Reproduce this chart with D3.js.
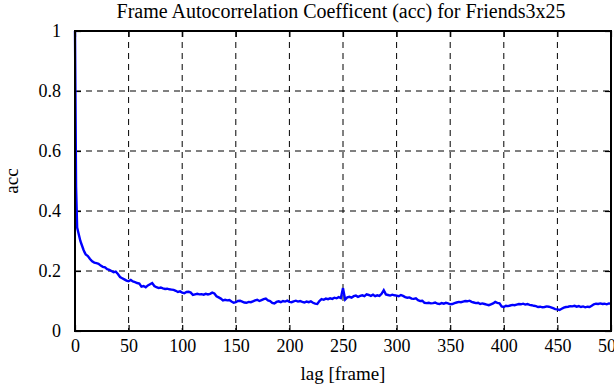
<!DOCTYPE html>
<html>
<head>
<meta charset="utf-8">
<script src="https://cdn.jsdelivr.net/npm/d3@7"></script>
<style>
  html, body { margin: 0; padding: 0; background: #fff; }
  svg { display: block; }
  text { font-family: "Liberation Serif", "DejaVu Serif", serif; fill: #000; }
</style>
</head>
<body>
<svg id="chart" width="614" height="385"></svg>
<script>
// ---- data ----
const titleText = "Frame Autocorrelation Coefficent (acc) for Friends3x25";
const xLabel = "lag [frame]";
const yLabel = "acc";
const xTicks = [0, 50, 100, 150, 200, 250, 300, 350, 400, 450, 500];
const yTicks = [0, 0.2, 0.4, 0.6, 0.8, 1];
const yTickLabels = ["0", "0.2", "0.4", "0.6", "0.8", "1"];

// lags: every frame for 0..9, then every 2 frames up to 500
const lagsHead = [0, 1, 2, 3, 4, 5, 6, 7, 8, 9];
const accHead = [1.0, 0.48, 0.345, 0.33, 0.315, 0.3, 0.29, 0.28, 0.27, 0.262];
// acc for lags 10, 12, 14, ..., 500
const accTail = [
  0.255, 0.25, 0.24, 0.232, 0.228, 0.226, 0.224, 0.218, 0.214, 0.212,
  0.206, 0.204, 0.2, 0.196, 0.198, 0.19, 0.18, 0.176, 0.172, 0.168,
  0.166, 0.17, 0.165, 0.163, 0.16, 0.158, 0.148, 0.15, 0.146, 0.152,
  0.156, 0.16, 0.15, 0.146, 0.143, 0.145, 0.142, 0.14, 0.141, 0.139,
  0.138, 0.137, 0.134, 0.13, 0.132, 0.128, 0.126, 0.13, 0.131, 0.128,
  0.12, 0.122, 0.124, 0.122, 0.123, 0.121, 0.124, 0.122, 0.124, 0.128,
  0.125, 0.116, 0.112, 0.108, 0.102, 0.104, 0.102, 0.103, 0.098, 0.094,
  0.096, 0.1, 0.101, 0.098, 0.095, 0.094, 0.097, 0.096, 0.099, 0.102,
  0.104, 0.1, 0.103, 0.106, 0.108, 0.102, 0.1, 0.094, 0.092, 0.097,
  0.099, 0.096, 0.1, 0.098, 0.101, 0.097, 0.096, 0.099, 0.101, 0.098,
  0.1, 0.097, 0.095, 0.098, 0.096, 0.099, 0.094, 0.091, 0.09, 0.1,
  0.106, 0.104, 0.108, 0.106, 0.109, 0.107, 0.111, 0.109, 0.113, 0.11,
  0.143, 0.105, 0.112, 0.114, 0.111, 0.116, 0.118, 0.114, 0.117, 0.119,
  0.116, 0.122, 0.12, 0.117, 0.121, 0.116, 0.119, 0.117, 0.124, 0.136,
  0.122, 0.12, 0.118, 0.121, 0.119, 0.118, 0.116, 0.12, 0.117, 0.113,
  0.111, 0.112, 0.108, 0.107, 0.109, 0.103, 0.1, 0.101, 0.094, 0.093,
  0.094, 0.092, 0.093, 0.095, 0.091, 0.09, 0.093, 0.091, 0.094, 0.092,
  0.089, 0.09, 0.093, 0.095, 0.097, 0.096, 0.098, 0.1, 0.099, 0.101,
  0.097, 0.095, 0.093, 0.094, 0.09, 0.092, 0.09, 0.088, 0.086, 0.089,
  0.092, 0.097, 0.094, 0.092, 0.082, 0.08, 0.084, 0.083, 0.085, 0.087,
  0.086, 0.088, 0.09, 0.089, 0.091, 0.088, 0.09, 0.087, 0.086, 0.084,
  0.083, 0.08, 0.081, 0.079, 0.08, 0.082, 0.081, 0.079, 0.076, 0.073,
  0.072, 0.07, 0.074, 0.078, 0.08, 0.081, 0.083, 0.082, 0.084, 0.081,
  0.083, 0.08, 0.082, 0.079, 0.081, 0.08, 0.084, 0.089, 0.091, 0.09,
  0.092, 0.09, 0.091, 0.089, 0.092, 0.091
];
const lags = lagsHead.concat(d3.range(10, 501, 2));
const acc = accHead.concat(accTail);

// ---- layout ----
const svg = d3.select("#chart");
const m = { left: 75, right: 611, top: 31, bottom: 331 };
const x = d3.scaleLinear().domain([0, 500]).range([m.left, m.right]);
const y = d3.scaleLinear().domain([0, 1]).range([m.bottom, m.top]);
const W = m.right - m.left, H = m.bottom - m.top;

// grid (dashed)
const grid = svg.append("g");
grid.selectAll("line.gx").data(xTicks.filter(t => t > 0 && t < 500)).enter()
  .append("line")
  .attr("x1", d => x(d)).attr("x2", d => x(d))
  .attr("y1", m.top).attr("y2", m.bottom)
  .attr("stroke", "#000").attr("stroke-width", 1)
  .attr("stroke-dasharray", "6,5");
grid.selectAll("line.gy").data(yTicks.filter(t => t > 0 && t < 1)).enter()
  .append("line")
  .attr("x1", m.left).attr("x2", m.right)
  .attr("y1", d => y(d)).attr("y2", d => y(d))
  .attr("stroke", "#000").attr("stroke-width", 1)
  .attr("stroke-dasharray", "6,5");

// axes with inward ticks (gnuplot style)
const tickLen = 6;
const xAxisB = d3.axisBottom(x).tickValues(xTicks).tickSize(-tickLen).tickPadding(tickLen + 6).tickFormat(d3.format("d"));
const xAxisT = d3.axisTop(x).tickValues(xTicks).tickSize(-tickLen).tickFormat("");
const yAxisL = d3.axisLeft(y).tickValues(yTicks).tickSize(-tickLen).tickPadding(tickLen + 8)
  .tickFormat((d, i) => yTickLabels[i]);
const yAxisR = d3.axisRight(y).tickValues(yTicks).tickSize(-tickLen).tickFormat("");

function styleAxis(g) {
  g.select(".domain").remove();
  g.selectAll(".tick line").attr("stroke", "#000").attr("stroke-width", 1.2);
  g.selectAll(".tick text").style("font-family", '"Liberation Serif", serif')
    .style("font-size", "18px").attr("fill", "#000");
}
svg.append("g").attr("transform", `translate(0,${m.bottom})`).call(xAxisB).call(styleAxis)
  .selectAll(".tick text").attr("dy", "0.5em");
svg.append("g").attr("transform", `translate(0,${m.top})`).call(xAxisT).call(styleAxis);
svg.append("g").attr("transform", `translate(${m.left},0)`).call(yAxisL).call(styleAxis);
svg.append("g").attr("transform", `translate(${m.right},0)`).call(yAxisR).call(styleAxis);

// data line
const line = d3.line().x((d, i) => x(lags[i])).y(d => y(d));
svg.append("path").datum(acc)
  .attr("d", line)
  .attr("fill", "none")
  .attr("stroke", "#0000ff")
  .attr("stroke-width", 2.4)
  .attr("stroke-linejoin", "miter");

// frame
svg.append("rect")
  .attr("x", m.left).attr("y", m.top).attr("width", W).attr("height", H)
  .attr("fill", "none").attr("stroke", "#000").attr("stroke-width", 2);

// title & labels
svg.append("text").attr("x", 341).attr("y", 18)
  .attr("text-anchor", "middle").style("font-size", "20px").text(titleText);
svg.append("text").attr("x", 343).attr("y", 380)
  .attr("text-anchor", "middle").style("font-size", "19px").text(xLabel);
svg.append("text")
  .attr("transform", `translate(18,${(m.top + m.bottom) / 2}) rotate(-90)`)
  .attr("text-anchor", "middle").style("font-size", "19px").text(yLabel);
</script>
</body>
</html>
